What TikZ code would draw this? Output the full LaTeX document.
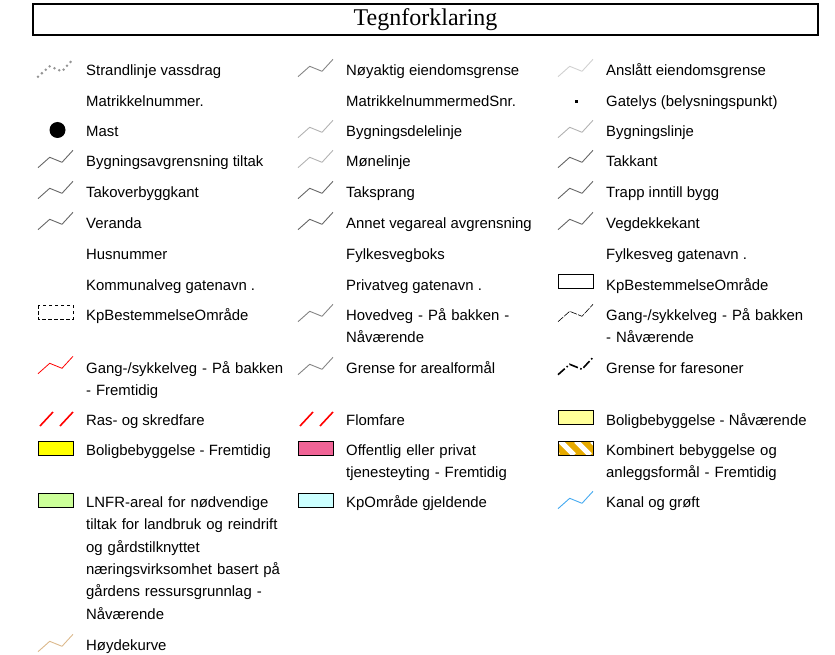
\documentclass[tikz,border=0pt]{standalone}
\usepackage{fontspec}
\setmainfont{Liberation Sans}
\newfontfamily\titlefont{Liberation Serif}
\definecolor{darkzig}{gray}{0.40}
\definecolor{midzig}{gray}{0.52}
\definecolor{lightzig}{gray}{0.70}
\definecolor{palezig}{gray}{0.82}
\definecolor{dotzig}{gray}{0.58}
\definecolor{boligF}{RGB}{255,255,0}
\definecolor{boligN}{RGB}{255,255,153}
\definecolor{offpink}{RGB}{240,100,150}
\definecolor{lnfr}{RGB}{204,255,153}
\definecolor{kpcyan}{RGB}{204,255,255}
\definecolor{kombo}{RGB}{230,170,0}
\definecolor{kanal}{RGB}{70,170,240}
\definecolor{hoyde}{RGB}{220,185,140}
\tikzset{
  zig/.pic={\draw[pic actions] (0,6.7) -- (11.7,-3.7) -- (24,1.3) -- (35,-10.7);},
  slashes/.pic={\draw[pic actions] (2,6) -- (15,-8) (22,6) -- (35,-8);},
  zl/.style={line width=0.9pt, line join=round},
  lbl/.style={anchor=base west, inner sep=0pt, yshift=-5.5pt, font=\fontsize{14.9}{22.3}\selectfont},
  lblm/.style={lbl, text width=260pt, align=left},
  swatch/.style={draw=black, line width=0.8pt},
}
\begin{document}
\begin{tikzpicture}[x=1pt,y=-1pt]
\useasboundingbox (0,0) rectangle (835,655);
% title
\node[draw, line width=2pt, minimum width=785pt, minimum height=31pt, inner sep=0pt,
      font=\titlefont\fontsize{24}{24}\selectfont] (title) at (425.5,19.5) {Tegnforklaring};

% ---------- column 1 ----------
\pic[draw=dotzig, line width=2.8pt, line cap=round, dash pattern=on 0pt off 5.2pt] at (38,70) {zig};
\node[lbl] (a1) at (86,70) {Strandlinje vassdrag};
\node[lbl] (a2) at (86,101) {Matrikkelnummer.};
\fill (57.5,130) circle (8);
\node[lbl] (a3) at (86,131) {Mast};
\pic[zl, draw=darkzig] at (38,161) {zig};
\node[lbl] (a4) at (86,161) {Bygningsavgrensning tiltak};
\pic[zl, draw=darkzig] at (38,192) {zig};
\node[lbl] (a5) at (86,192) {Takoverbyggkant};
\pic[zl, draw=darkzig] at (38,223) {zig};
\node[lbl] (a6) at (86,223) {Veranda};
\node[lbl] (a7) at (86,254) {Husnummer};
\node[lbl] (a8) at (86,285) {Kommunalveg gatenavn .};
\draw[black, line width=0.8pt, dash pattern=on 3.5pt off 2.5pt] (38,305) rectangle (73,319);
\node[lbl] (a9) at (86,315) {KpBestemmelseOmråde};
\pic[line width=0.8pt, draw=red] at (38,367) {zig};
\node[lblm] (a10) at (86,368) {Gang-/sykkelveg - På bakken\\- Fremtidig};
\pic[line width=1.6pt, draw=red] at (38,420) {slashes};
\node[lbl] (a11) at (86,420) {Ras- og skredfare};
\draw[swatch, fill=boligF] (38,441) rectangle (73,455);
\node[lbl] (a12) at (86,450) {Boligbebyggelse - Fremtidig};
\draw[swatch, fill=lnfr] (38,493) rectangle (73,507);
\node[lblm] (a13) at (86,502) {LNFR-areal for nødvendige\\tiltak for landbruk og reindrift\\og gårdstilknyttet\\næringsvirksomhet basert på\\gårdens ressursgrunnlag -\\Nåværende};
\pic[zl, draw=hoyde] at (38,645) {zig};
\node[lbl] (a14) at (86,645) {Høydekurve};

% ---------- column 2 ----------
\pic[zl, draw=midzig] at (298,70) {zig};
\node[lbl] (b1) at (346,70) {Nøyaktig eiendomsgrense};
\node[lbl] (b2) at (346,101) {MatrikkelnummermedSnr.};
\pic[zl, draw=lightzig] at (298,131) {zig};
\node[lbl] (b3) at (346,131) {Bygningsdelelinje};
\pic[zl, draw=lightzig] at (298,161) {zig};
\node[lbl] (b4) at (346,161) {Mønelinje};
\pic[zl, draw=darkzig] at (298,192) {zig};
\node[lbl] (b5) at (346,192) {Taksprang};
\pic[zl, draw=darkzig] at (298,223) {zig};
\node[lbl] (b6) at (346,223) {Annet vegareal avgrensning};
\node[lbl] (b7) at (346,254) {Fylkesvegboks};
\node[lbl] (b8) at (346,285) {Privatveg gatenavn .};
\pic[zl, draw=midzig] at (298,315) {zig};
\node[lblm] (b9) at (346,315) {Hovedveg - På bakken -\\Nåværende};
\pic[zl, draw=midzig] at (298,368) {zig};
\node[lbl] (b10) at (346,368) {Grense for arealformål};
\pic[line width=1.6pt, draw=red] at (298,420) {slashes};
\node[lbl] (b11) at (346,420) {Flomfare};
\draw[swatch, fill=offpink] (298,441) rectangle (333,455);
\node[lblm] (b12) at (346,450) {Offentlig eller privat\\tjenesteyting - Fremtidig};
\draw[swatch, fill=kpcyan] (298,493) rectangle (333,507);
\node[lbl] (b13) at (346,502) {KpOmråde gjeldende};

% ---------- column 3 ----------
\pic[zl, draw=palezig] at (558,70) {zig};
\node[lbl] (c1) at (606,70) {Anslått eiendomsgrense};
\fill (575,100.5) rectangle (578,103.5);
\node[lbl] (c2) at (606,101) {Gatelys (belysningspunkt)};
\pic[zl, draw=lightzig] at (558,131) {zig};
\node[lbl] (c3) at (606,131) {Bygningslinje};
\pic[zl, draw=darkzig] at (558,161) {zig};
\node[lbl] (c4) at (606,161) {Takkant};
\pic[zl, draw=darkzig] at (558,192) {zig};
\node[lbl] (c5) at (606,192) {Trapp inntill bygg};
\pic[zl, draw=darkzig] at (558,223) {zig};
\node[lbl] (c6) at (606,223) {Vegdekkekant};
\node[lbl] (c7) at (606,254) {Fylkesveg gatenavn .};
\draw[black, line width=0.8pt] (558,274) rectangle (593,288);
\node[lbl] (c8) at (606,285) {KpBestemmelseOmråde};
\pic[line width=0.6pt, draw=black, dash pattern=on 7pt off 1.2pt] at (558,315) {zig};
\node[lblm] (c9) at (606,315) {Gang-/sykkelveg - På bakken\\- Nåværende};
\pic[line width=1.6pt, draw=black, dash pattern=on 9pt off 2.5pt on 1.5pt off 2.5pt] at (558,368) {zig};
\node[lbl] (c10) at (606,368) {Grense for faresoner};
\draw[swatch, fill=boligN] (558,410) rectangle (593,424);
\node[lbl] (c11) at (606,420) {Boligbebyggelse - Nåværende};
\begin{scope}
  \clip (558,441) rectangle (593,455);
  \fill[kombo] (558,441) rectangle (593,455);
  \foreach \s in {-14,2,18,34}
    \draw[white, line width=5pt] ({558+\s},441) -- ++(14,14);
\end{scope}
\draw[swatch] (558,441) rectangle (593,455);
\node[lblm] (c12) at (606,450) {Kombinert bebyggelse og\\anleggsformål - Fremtidig};
\pic[zl, draw=kanal] at (558,502) {zig};
\node[lbl] (c13) at (606,502) {Kanal og grøft};
\end{tikzpicture}
\end{document}
